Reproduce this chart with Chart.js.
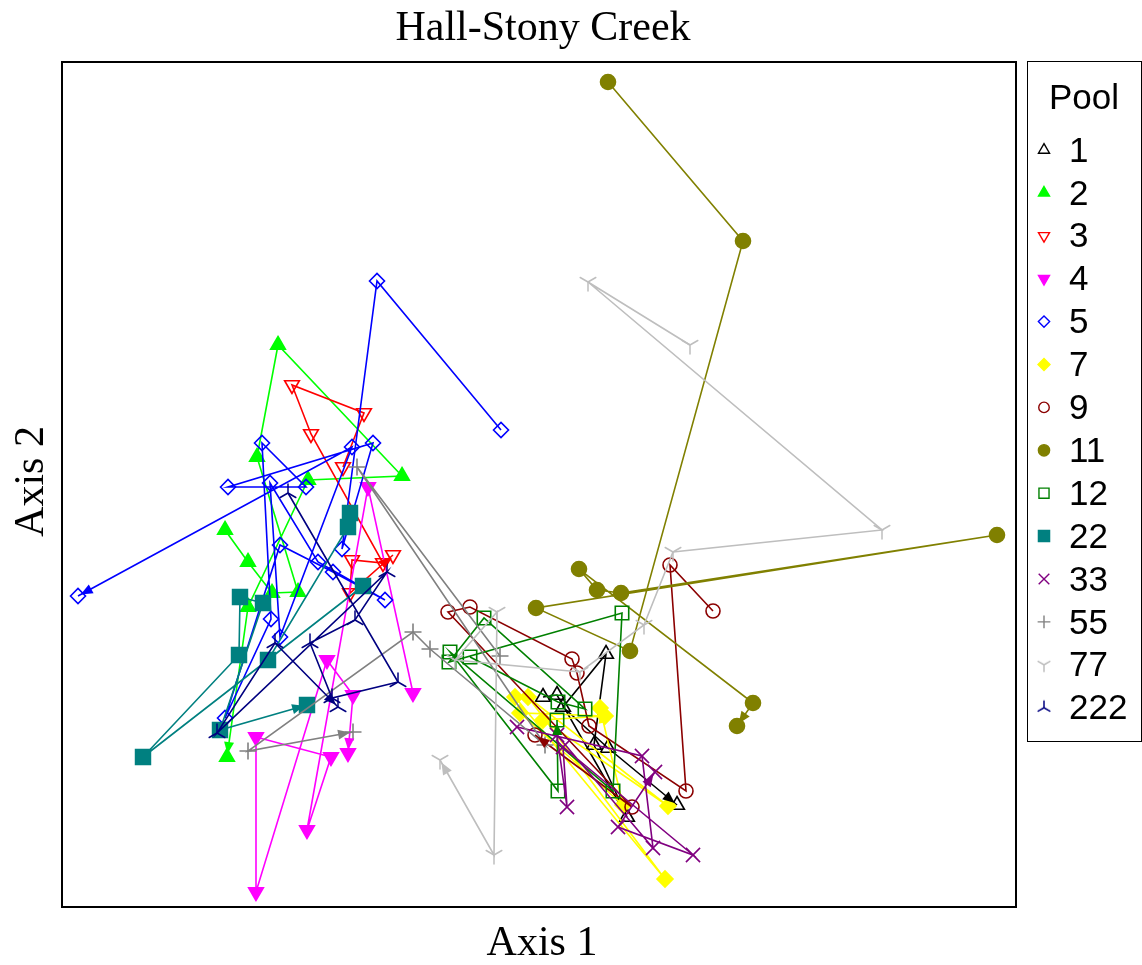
<!DOCTYPE html>
<html>
<head>
<meta charset="utf-8">
<title>Hall-Stony Creek</title>
<script src="https://cdn.jsdelivr.net/npm/chart.js@4.4.1/dist/chart.umd.min.js"></script>
<style>
html, body { margin: 0; padding: 0; background: #fff; }
#wrap { position: relative; width: 1142px; height: 965px; }
</style>
</head>
<body>
<div id="wrap"><canvas id="chart"></canvas></div>
<script>
// Ordination scores per pool, in sampling order [Axis 1, Axis 2]
const poolNames = ["1", "2", "3", "4", "5", "7", "9", "11", "12", "22", "33", "55", "77", "222"];

const pool1 = [[48.1, 21.0], [49.5, 21.2], [56.5, 9.0], [53.2, 16.2], [54.4, 25.3], [50.1, 20.0], [54.6, 15.9], [61.5, 10.2]];
const pool2 = [[16.3, 37.7], [18.6, 34.5], [21.0, 31.4], [23.6, 31.5], [19.5, 45.0], [21.6, 56.2], [34.0, 43.1], [24.6, 42.7], [18.6, 30.0], [16.5, 15.0]];
const pool3 = [[28.1, 44.0], [30.2, 49.4], [23.0, 52.2], [24.9, 47.3], [32.1, 34.4], [29.0, 34.7], [28.8, 31.4], [33.1, 35.2]];
const pool4 = [[35.1, 21.4], [30.6, 42.0], [24.5, 7.7], [26.9, 15.0], [19.4, 17.0], [19.4, 1.5], [26.5, 24.7], [29.1, 21.2], [28.6, 15.4]];
const pool5 = [[43.9, 47.7], [31.5, 62.6], [28.0, 35.8], [31.1, 46.4], [16.6, 42.0], [24.4, 42.0], [20.0, 46.4], [20.9, 28.8], [16.3, 18.9],
               [21.8, 36.2], [27.1, 33.5], [32.3, 30.7], [25.6, 34.5], [20.8, 42.4], [21.8, 27.0], [29.0, 46.0], [1.6, 31.1]];
const pool7 = [[45.3, 21.0], [60.3, 2.8], [46.6, 21.0], [60.6, 10.1], [48.1, 18.7], [54.3, 19.1], [45.8, 19.4], [56.1, 10.2], [53.8, 19.9]];
const pool9 = [[65.1, 29.6], [60.8, 34.2], [62.4, 11.6], [52.7, 18.1], [51.5, 23.4], [51.0, 24.8], [40.8, 30.0], [38.6, 29.5], [57.0, 10.0], [47.3, 17.2]];
const pool11 = [[54.6, 82.5], [68.1, 66.6], [56.8, 25.6], [47.4, 29.9], [93.5, 37.2], [55.9, 31.4], [53.5, 31.7], [51.7, 33.8], [69.1, 20.4], [67.5, 18.1]];
const pool12 = [[40.8, 25.0], [49.6, 20.5], [52.3, 19.8], [42.2, 28.9], [38.7, 24.5], [56.0, 29.4], [55.1, 11.6], [38.8, 25.5], [49.6, 11.6], [49.5, 18.7]];
const pool22 = [[28.8, 39.4], [28.6, 38.0], [20.6, 24.7], [30.1, 32.1], [8.1, 15.0], [17.7, 25.2], [17.8, 31.0], [20.1, 30.4], [15.8, 17.7], [24.5, 20.2]];
const pool33 = [[45.5, 18.0], [58.0, 15.1], [59.1, 5.9], [49.5, 17.2], [50.5, 10.0], [50.1, 16.0], [63.1, 5.2], [55.6, 8.0], [59.3, 13.5]];
const pool55 = [[43.8, 25.1], [29.5, 44.0], [48.3, 16.2], [36.8, 25.8], [35.1, 27.5], [18.6, 15.6], [29.1, 17.5]];
const pool77 = [[62.8, 56.2], [52.6, 62.5], [82.0, 37.7], [61.1, 35.5], [58.2, 28.2], [51.8, 23.5], [39.3, 24.7], [43.5, 29.5], [43.2, 5.2], [37.8, 14.7]];
const pool222 = [[22.6, 41.4], [33.6, 22.5], [27.0, 20.9], [24.8, 26.4], [29.3, 28.7], [32.5, 33.5], [15.5, 17.4], [21.3, 26.4], [27.6, 20.0]];

const poolData = [pool1, pool2, pool3, pool4, pool5, pool7, pool9, pool11, pool12, pool22, pool33, pool55, pool77, pool222];

const axisRangeX = [0, 95.4];
const axisRangeY = [0, 84.5];

// look of each pool
const poolColors = ["#000000", "#00FF00", "#FF0000", "#FF00FF", "#0000FF", "#FFFF00", "#8B0000",
                    "#808000", "#008000", "#008080", "#800080", "#808080", "#BEBEBE", "#000080"];
const poolFilled = [false, true, false, true, false, true, false, true, false, true, false, false, false, false];
const poolShapes = ["triangle", "triangle", "triangleDown", "triangleDown", "rectRot", "rectRot", "circle",
                    "circle", "rect", "rect", "crossRot", "cross", "ydown", "yup"];
const poolRadius = [8.5, 8.5, 8.5, 8.5, 7.5, 8, 7, 7.5, 9.5, 10.5, 10, 8.5, 9, 9];

// three-spoke symbols (Y and upside-down Y) drawn on small canvases
function spokeSymbol(color, len, stemUp) {
    const c = document.createElement("canvas");
    const s = Math.ceil(len * 2 + 4);
    c.width = s; c.height = s;
    const g = c.getContext("2d");
    g.strokeStyle = color;
    g.lineWidth = 1.5;
    g.lineCap = "round";
    const m = s / 2;
    const sgn = stemUp ? -1 : 1;
    g.beginPath();
    g.moveTo(m, m); g.lineTo(m, m + sgn * len);
    g.moveTo(m, m); g.lineTo(m - 0.866 * len, m - sgn * 0.5 * len);
    g.moveTo(m, m); g.lineTo(m + 0.866 * len, m - sgn * 0.5 * len);
    g.stroke();
    return c;
}

function styleFor(i, scale) {
    const shape = poolShapes[i];
    const r = poolRadius[i] * scale;
    if (shape === "ydown") return { pointStyle: spokeSymbol(poolColors[i], r, false), rotation: 0, radius: r };
    if (shape === "yup") return { pointStyle: spokeSymbol(poolColors[i], r, true), rotation: 0, radius: r };
    if (shape === "triangleDown") return { pointStyle: "triangle", rotation: 180, radius: r };
    return { pointStyle: shape, rotation: 0, radius: r };
}

const datasets = poolData.map((pts, i) => {
    const st = styleFor(i, 1);
    const fill = poolFilled[i] ? poolColors[i] : "rgba(0,0,0,0)";
    return {
        label: poolNames[i],
        data: pts.map(p => ({ x: p[0], y: p[1] })),
        showLine: true,
        borderColor: poolColors[i],
        backgroundColor: fill,
        borderWidth: 1.6,
        pointStyle: st.pointStyle,
        pointRotation: st.rotation,
        pointRadius: st.radius,
        pointHoverRadius: st.radius,
        pointBorderColor: poolColors[i],
        pointBackgroundColor: fill,
        pointBorderWidth: 1.6,
        tension: 0,
        fill: false,
        order: poolNames.length - i
    };
});

// arrows at the end of each trajectory, frame, titles and legend
const decorations = {
    id: "decorations",
    afterDatasetsDraw(chart) {
        const ctx = chart.ctx;
        chart.data.datasets.forEach((ds, i) => {
            const pts = chart.getDatasetMeta(i).data;
            if (pts.length < 2) return;
            const a = pts[pts.length - 2], b = pts[pts.length - 1];
            const dx = b.x - a.x, dy = b.y - a.y;
            const d = Math.hypot(dx, dy) || 1;
            const ux = dx / d, uy = dy / d;
            const tipX = b.x - ux * 3, tipY = b.y - uy * 3;
            const len = 12, hw = 5;
            const bx = tipX - ux * len, by = tipY - uy * len;
            ctx.save();
            ctx.fillStyle = poolColors[i];
            ctx.beginPath();
            ctx.moveTo(tipX, tipY);
            ctx.lineTo(bx - uy * hw, by + ux * hw);
            ctx.lineTo(bx + uy * hw, by - ux * hw);
            ctx.closePath();
            ctx.fill();
            ctx.restore();
        });
    },
    afterDraw(chart) {
        const ctx = chart.ctx;
        const area = chart.chartArea;
        ctx.save();
        // plot frame
        ctx.strokeStyle = "#000";
        ctx.lineWidth = 2;
        ctx.strokeRect(area.left, area.top, area.right - area.left, area.bottom - area.top);

        // title and axis labels
        ctx.fillStyle = "#000";
        ctx.textAlign = "center";
        ctx.textBaseline = "alphabetic";
        ctx.font = '42px "Liberation Serif", "Times New Roman", serif';
        ctx.fillText("Hall-Stony Creek", (area.left + area.right) / 2 + 4, 40);
        ctx.fillText("Axis 1", (area.left + area.right) / 2 + 3, 955);
        ctx.save();
        ctx.translate(43, (area.top + area.bottom) / 2 - 3);
        ctx.rotate(-Math.PI / 2);
        ctx.fillText("Axis 2", 0, 0);
        ctx.restore();

        // legend
        const lx = 1027, ly = 61, lw = 114, lh = 680;
        ctx.lineWidth = 1;
        ctx.strokeStyle = "#000";
        ctx.strokeRect(lx + 0.5, ly + 0.5, lw, lh);
        ctx.font = '35px "Liberation Sans", Arial, sans-serif';
        ctx.textAlign = "center";
        ctx.textBaseline = "middle";
        ctx.fillText("Pool", 1084, 99);
        ctx.textAlign = "left";
        const drawPoint = Chart.helpers && Chart.helpers.drawPoint;
        poolNames.forEach((name, i) => {
            const y = 150 + i * 42.9;
            ctx.fillStyle = "#000";
            ctx.fillText(name, 1069, y + 2);
            const st = styleFor(i, 0.75);
            ctx.strokeStyle = poolColors[i];
            ctx.fillStyle = poolFilled[i] ? poolColors[i] : "rgba(0,0,0,0)";
            ctx.lineWidth = 1.4;
            if (drawPoint) {
                drawPoint(ctx, { pointStyle: st.pointStyle, rotation: st.rotation, radius: st.radius, borderWidth: 1.4 }, 1044, y);
            }
        });
        ctx.restore();
    }
};

new Chart(document.getElementById("chart"), {
    type: "scatter",
    data: { datasets: datasets },
    options: {
        responsive: true,
        maintainAspectRatio: false,
        animation: false,
        layout: { padding: { left: 62, right: 126, top: 62, bottom: 58 } },
        plugins: {
            legend: { display: false },
            title: { display: false },
            tooltip: { enabled: false }
        },
        scales: {
            x: { type: "linear", min: axisRangeX[0], max: axisRangeX[1], display: false },
            y: { type: "linear", min: axisRangeY[0], max: axisRangeY[1], display: false }
        }
    },
    plugins: [decorations]
});
</script>
</body>
</html>
